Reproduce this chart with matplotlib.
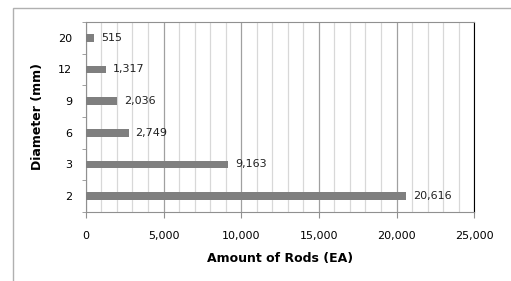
import matplotlib.pyplot as plt
import numpy as np
from matplotlib.patches import Rectangle

diameters = ["2", "3", "6", "9", "12", "20"]
amounts = [20616, 9163, 2749, 2036, 1317, 515]

fig = plt.figure(figsize=(5.11, 2.81), dpi=100)
ax = fig.add_axes([0.168, 0.246, 0.76, 0.676])

# outer chart frame
fig.patches.append(Rectangle((13 / 511, -0.1), 1.2, 1 - 8 / 281 + 0.1, transform=fig.transFigure,
                             fill=False, edgecolor="#b0b0b0", linewidth=1.0))

y = np.arange(len(diameters))
ax.barh(y, amounts, height=0.24, color="#7f7f7f", zorder=3)
for yi, v in zip(y, amounts):
    ax.text(v + 450, yi, f"{v:,}", va="center", ha="left", fontsize=8, color="#222222")

ax.set_xlim(0, 25000)
ax.set_ylim(-0.5, len(diameters) - 0.5)
ax.set_xticks(np.arange(0, 25001, 5000))
ax.set_xticks(np.arange(0, 25001, 1000), minor=True)
ax.xaxis.set_major_formatter(plt.FuncFormatter(lambda v, p: f"{int(v):,}"))
ax.set_yticks(y)
ax.set_yticklabels(diameters)
ax.set_yticks(np.arange(-0.5, len(diameters)), minor=True)

ax.grid(True, axis="x", which="major", color="#a0a0a0", linewidth=0.9, zorder=0)
ax.grid(True, axis="x", which="minor", color="#d8d8d8", linewidth=0.9, zorder=0)
ax.tick_params(axis="x", which="major", length=4, color="#909090", labelsize=8, pad=10)
ax.tick_params(axis="x", which="minor", length=0)
ax.tick_params(axis="y", which="major", length=0, labelsize=8, pad=10)
ax.tick_params(axis="y", which="minor", length=3, color="#909090")

for s in ["left", "bottom", "top"]:
    ax.spines[s].set_color("#909090")
ax.spines["right"].set_color("black")

ax.set_xlabel("Amount of Rods (EA)", fontsize=9, fontweight="bold", labelpad=8)
ax.set_ylabel("Diameter (mm)", fontsize=9, fontweight="bold", labelpad=10)

fig.savefig("out.png", dpi=100)
